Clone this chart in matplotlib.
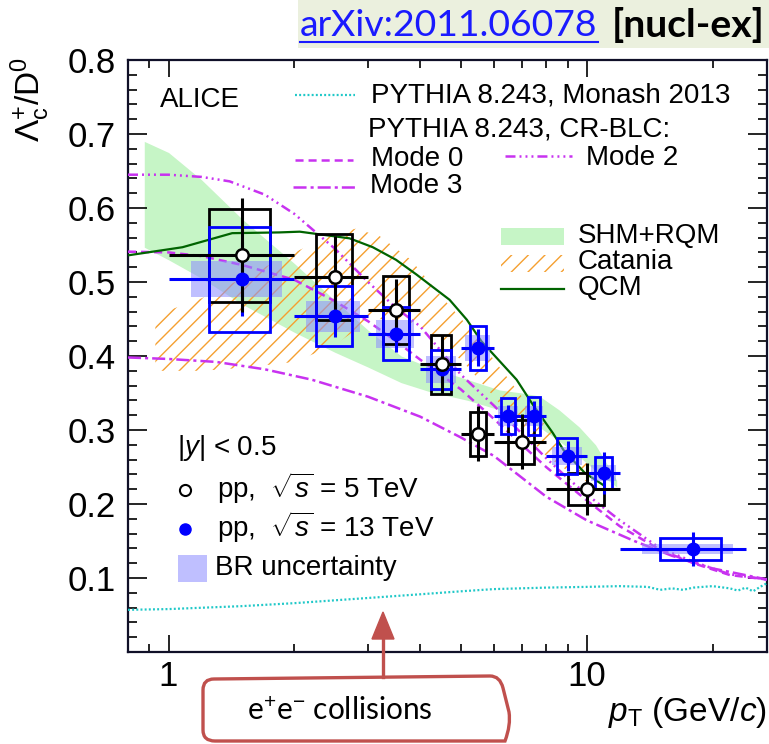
import numpy as np
import matplotlib
matplotlib.use('Agg')
import matplotlib.pyplot as plt
from matplotlib.patches import Rectangle, PathPatch, Polygon
from matplotlib.path import Path
from matplotlib.ticker import FixedLocator, NullFormatter, FixedFormatter

plt.rcParams['font.family'] = ['Liberation Sans', 'DejaVu Sans']
plt.rcParams['mathtext.fontset'] = 'custom'
plt.rcParams['mathtext.rm'] = 'Liberation Sans'
plt.rcParams['mathtext.it'] = 'Liberation Sans:italic'
plt.rcParams['mathtext.bf'] = 'Liberation Sans:bold'
plt.rcParams['hatch.linewidth'] = 1.0
plt.rcParams['lines.scale_dashes'] = False

# ---------------- data ----------------
# pp 13 TeV
pt13 = [1.5, 2.5, 3.5, 4.5, 5.5, 6.5, 7.5, 9.0, 11.0, 18.0]
lo13 = [1, 2, 3, 4, 5, 6, 7, 8, 10, 12]
hi13 = [2, 3, 4, 5, 6, 7, 8, 10, 12, 24]
r13 = [0.504, 0.454, 0.430, 0.382, 0.411, 0.319, 0.319, 0.265, 0.242, 0.139]
stat13 = [0.050, 0.028, 0.025, 0.020, 0.025, 0.015, 0.020, 0.020, 0.028, 0.023]
sys13 = [0.071, 0.040, 0.036, 0.026, 0.030, 0.024, 0.026, 0.024, 0.022, 0.015]
br13 = [0.024, 0.021, 0.019, 0.018, 0.018, 0.014, 0.014, 0.012, 0.011, 0.007]

# pp 5 TeV
pt5 = [1.5, 2.5, 3.5, 4.5, 5.5, 7.0, 10.0]
lo5 = [1, 2, 3, 4, 5, 6, 8]
hi5 = [2, 3, 4, 5, 6, 8, 12]
r5 = [0.536, 0.507, 0.462, 0.389, 0.295, 0.284, 0.220]
stat5 = [0.077, 0.055, 0.042, 0.040, 0.037, 0.037, 0.035]
sys5 = [0.063, 0.058, 0.046, 0.040, 0.030, 0.030, 0.022]

# SHM+RQM band
shm_pt = [0.875, 1.0, 1.2, 1.5, 2.0, 2.5, 3.0, 3.6, 4.2, 5.2, 6.2, 7.0, 7.7, 8.6, 9.6, 10.5, 11.8]
shm_hi = [0.690, 0.675, 0.638, 0.585, 0.525, 0.475, 0.435, 0.400, 0.385, 0.368, 0.354, 0.350, 0.346, 0.327, 0.304, 0.280, 0.232]
shm_lo = [0.547, 0.530, 0.505, 0.470, 0.432, 0.405, 0.385, 0.364, 0.352, 0.340, 0.327, 0.315, 0.304, 0.285, 0.264, 0.245, 0.223]

# Catania band
cat_pt = [0.93, 1.2, 1.5, 2.0, 2.5, 2.8, 3.2, 3.8, 4.5, 5.2, 6.0, 7.0, 8.0, 9.0, 10.0]
cat_hi = [0.455, 0.478, 0.505, 0.540, 0.565, 0.572, 0.562, 0.530, 0.480, 0.440, 0.395, 0.345, 0.305, 0.275, 0.255]
cat_lo = [0.380, 0.380, 0.384, 0.392, 0.415, 0.435, 0.450, 0.445, 0.420, 0.385, 0.345, 0.300, 0.265, 0.245, 0.230]

# QCM
qcm_pt = [0.8, 1.08, 1.42, 1.84, 2.06, 2.71, 3.08, 3.5, 3.92, 4.7, 5.17, 5.6, 6.8, 7.4, 8.3, 8.8, 9.9, 11.0]
qcm_y = [0.536, 0.547, 0.566, 0.567, 0.568, 0.559, 0.547, 0.530, 0.510, 0.476, 0.449, 0.420, 0.368, 0.336, 0.296, 0.273, 0.242, 0.225]

# PYTHIA Monash
mon_pt = [0.8, 1, 1.5, 2, 3, 4, 5, 6, 8, 10, 12, 14, 15, 16, 17, 18, 20, 22, 23, 24, 25, 26, 27]
mon_y = [0.057, 0.058, 0.062, 0.066, 0.073, 0.078, 0.082, 0.085, 0.087, 0.088, 0.089, 0.088, 0.084,
         0.086, 0.084, 0.087, 0.089, 0.086, 0.083, 0.087, 0.082, 0.088, 0.093]

# PYTHIA CR-BLC modes
m0_pt = [0.8, 1.0, 1.2, 1.5, 2.0, 2.5, 3.0, 3.5, 4.0, 5.0, 6.0, 7.0, 8.0, 10, 12, 15, 18, 22, 27]
m0_y = [0.541, 0.540, 0.535, 0.523, 0.503, 0.474, 0.447, 0.420, 0.395, 0.355, 0.315, 0.280, 0.250,
        0.205, 0.170, 0.138, 0.120, 0.104, 0.098]
m2_pt = [0.8, 1.0, 1.2, 1.4, 1.7, 2.0, 2.5, 3.0, 3.5, 4.0, 5.0, 6.0, 7.0, 8.0, 9.0, 10, 12, 15, 18, 22, 27]
m2_y = [0.645, 0.645, 0.642, 0.636, 0.618, 0.592, 0.545, 0.500, 0.465, 0.440, 0.375, 0.333, 0.295,
        0.262, 0.235, 0.213, 0.178, 0.140, 0.122, 0.105, 0.098]
m3_pt = [0.8, 1.0, 1.3, 1.7, 2.2, 3.0, 4.0, 5.0, 6.0, 8.0, 10, 13, 16, 20, 27]
m3_y = [0.398, 0.396, 0.392, 0.382, 0.368, 0.345, 0.318, 0.290, 0.265, 0.210, 0.178, 0.150, 0.130, 0.113, 0.098]

x_ticks = [1, 10]
x_ticklabels = ['1', '10']
y_ticks = [0.1, 0.2, 0.3, 0.4, 0.5, 0.6, 0.7, 0.8]
y_ticklabels = ['0.1', '0.2', '0.3', '0.4', '0.5', '0.6', '0.7', '0.8']

# ---------------- figure ----------------
W, H = 769, 744
fig = plt.figure(figsize=(W / 100, H / 100), dpi=100)


def F(x, y):
    return (x / W, 1 - y / H)


ax = fig.add_axes([128 / W, (H - 652) / H, (767 - 128) / W, (652 - 60) / H])
ax.set_xscale('log')
ax.set_xlim(0.8, 27)
ax.set_ylim(0.0, 0.8)

C13 = '#0000ff'
MAG = '#c832f0'
CYAN = '#20c8c8'
QCMC = '#006400'
ORANGE = '#f5a030'
GREEN = '#c6f5c6'
BRC = (0.55, 0.55, 1.0)

# bands
ax.fill_between(shm_pt, shm_lo, shm_hi, color=GREEN, lw=0, zorder=1)
ax.fill_between(cat_pt, cat_lo, cat_hi, facecolor='none', edgecolor=ORANGE, hatch='//', lw=0, zorder=2)

# curves
ax.plot(mon_pt, mon_y, color=CYAN, lw=1.6, ls=(0, (1.4, 1.6)), zorder=3)
ax.plot(m0_pt, m0_y, color=MAG, lw=1.8, ls=(0, (5.8, 3.6)), zorder=3)
ax.plot(m2_pt, m2_y, color=MAG, lw=1.8, ls=(0, (7.2, 2.9, 1.4, 2.9, 1.4, 2.9, 1.4, 2.9)), zorder=3)
ax.plot(m3_pt, m3_y, color=MAG, lw=1.8, ls=(0, (9.4, 2.9, 2.2, 2.9)), zorder=3)
ax.plot(qcm_pt, qcm_y, color=QCMC, lw=1.6, zorder=3)

# BR boxes (13 TeV)
for x, l, h, y, b in zip(pt13, lo13, hi13, r13, br13):
    hw = 0.37 * (h - l)
    ax.add_patch(Rectangle((x - hw, y - b), 2 * hw, 2 * b, facecolor=BRC, alpha=0.55, lw=0, zorder=4))

# systematic boxes
for x, l, h, y, s in zip(pt5, lo5, hi5, r5, sys5):
    hw = 0.25 * (h - l)
    ax.add_patch(Rectangle((x - hw, y - s), 2 * hw, 2 * s, facecolor='none', edgecolor='black', lw=2.0, zorder=5))
for x, l, h, y, s in zip(pt13, lo13, hi13, r13, sys13):
    hw = 0.25 * (h - l)
    ax.add_patch(Rectangle((x - hw, y - s), 2 * hw, 2 * s, facecolor='none', edgecolor=C13, lw=2.0, zorder=5))

# stat error bars
xe13 = [np.subtract(pt13, lo13), np.subtract(hi13, pt13)]
xe5 = [np.subtract(pt5, lo5), np.subtract(hi5, pt5)]
ax.errorbar(pt13, r13, xerr=xe13, yerr=stat13, fmt='none', ecolor=C13, elinewidth=2.2, capsize=0, zorder=6)
ax.errorbar(pt5, r5, xerr=xe5, yerr=stat5, fmt='none', ecolor='black', elinewidth=2.2, capsize=0, zorder=7)
ax.plot(pt13, r13, 'o', color=C13, ms=9, mec=C13, zorder=8)
ax.plot(pt5, r5, 'o', mfc='white', mec='black', mew=1.8, ms=9, zorder=9)

# axes styling
ax.xaxis.set_major_locator(FixedLocator(x_ticks))
ax.xaxis.set_major_formatter(FixedFormatter(x_ticklabels))
ax.xaxis.set_minor_locator(FixedLocator([0.8, 0.9, 2, 3, 4, 5, 6, 7, 8, 9, 20]))
ax.xaxis.set_minor_formatter(NullFormatter())
ax.yaxis.set_major_locator(FixedLocator(y_ticks))
ax.yaxis.set_major_formatter(FixedFormatter(y_ticklabels))
ax.yaxis.set_minor_locator(FixedLocator(np.arange(0.02, 0.8, 0.02)))
ax.tick_params(axis='both', which='both', direction='in', top=True, right=True, width=1.2, color='black')
ax.tick_params(axis='y', which='major', length=14, labelsize=25, pad=9)
ax.tick_params(axis='y', which='minor', length=6.5)
ax.tick_params(axis='x', which='major', length=12, labelsize=25, pad=6)
ax.tick_params(axis='x', which='minor', length=6)
for sp in ax.spines.values():
    sp.set_linewidth(1.6)
    sp.set_color('#101028')

# axis titles
fig.text(*F(30, 57), r'$\Lambda_{\rm c}^{+}/{\rm D}^{0}$', rotation=90, ha='center', va='top', fontsize=24)
fig.text(*F(767, 712), r'$p_{\rm T}$ (GeV/$c$)', ha='right', va='center', fontsize=24)

# ---------------- legends ----------------
fs = 20
fig.text(*F(160, 100), 'ALICE', ha='left', va='center', fontsize=fs)


def legline(x0, x1, y, **kw):
    ax.plot([x0 / W, x1 / W], [1 - y / H, 1 - y / H], transform=fig.transFigure, clip_on=False, **kw)


legline(295, 355, 95, color=CYAN, lw=1.6, ls=(0, (1.4, 1.6)))
fig.text(*F(371, 96), 'PYTHIA 8.243, Monash 2013', va='center', ha='left', fontsize=fs)
fig.text(*F(368, 130), 'PYTHIA 8.243, CR-BLC:', va='center', ha='left', fontsize=fs)
legline(295, 353, 160, color=MAG, lw=1.8, ls=(0, (5.8, 3.6)))
fig.text(*F(371, 159), 'Mode 0', va='center', ha='left', fontsize=fs)
legline(505, 572, 156, color=MAG, lw=1.8, ls=(0, (7.2, 2.9, 1.4, 2.9, 1.4, 2.9, 1.4, 2.9)))
fig.text(*F(586, 158), 'Mode 2', va='center', ha='left', fontsize=fs)
legline(293, 355, 187, color=MAG, lw=1.8, ls=(0, (9.4, 2.9, 2.2, 2.9)))
fig.text(*F(370, 186), 'Mode 3', va='center', ha='left', fontsize=fs)

fig.patches.append(Rectangle(F(501, 245), 63 / W, 17 / H, transform=fig.transFigure, facecolor=GREEN, lw=0))
fig.text(*F(578, 236), 'SHM+RQM', va='center', ha='left', fontsize=fs)
fig.patches.append(Rectangle(F(501, 272), 63 / W, 17 / H, transform=fig.transFigure, facecolor='none',
                             edgecolor=ORANGE, hatch='//', lw=0))
fig.text(*F(578, 262), 'Catania', va='center', ha='left', fontsize=fs)
legline(501, 564, 289, color=QCMC, lw=1.6)
fig.text(*F(578, 288), 'QCM', va='center', ha='left', fontsize=fs)

fig.text(*F(177, 448), r'|$y$| < 0.5', va='center', ha='left', fontsize=fs)
ax.plot([185 / W], [1 - 490 / H], 'o', mfc='white', mec='black', mew=1.5, ms=8, transform=fig.transFigure, clip_on=False)
fig.text(*F(217, 488), r'pp,  $\sqrt{s}$ = 5 TeV', va='center', ha='left', fontsize=fs)
ax.plot([185 / W], [1 - 529 / H], 'o', color=C13, ms=8, transform=fig.transFigure, clip_on=False)
fig.text(*F(217, 527), r'pp,  $\sqrt{s}$ = 13 TeV', va='center', ha='left', fontsize=fs)
fig.patches.append(Rectangle(F(178, 582), 29 / W, 27 / H, transform=fig.transFigure, facecolor=BRC, alpha=0.55, lw=0))
fig.text(*F(215, 568), 'BR uncertainty', va='center', ha='left', fontsize=fs)

# ---------------- banner ----------------
fig.patches.append(Rectangle(F(298, 48), (W - 298) / W, 48 / H, transform=fig.transFigure, facecolor='#ebf0de', lw=0))
t1 = fig.text(*F(300, 25), 'arXiv:2011.06078', va='center', ha='left', fontsize=26, color='#1a1aff', family='Lato')
t2 = fig.text(*F(765, 25), '[nucl-ex]', va='center', ha='right', fontsize=26, color='black', family='Lato', weight='bold')

# ---------------- callout ----------------
RED = '#c0504d'
verts = [F(203, 690), F(203, 679), F(214, 679), F(490, 676), F(500, 676), F(503, 688), F(509, 712),
         F(511, 725), F(505, 741), F(215, 741), F(203, 741), F(203, 730), F(203, 690)]
codes = [Path.MOVETO, Path.CURVE3, Path.CURVE3, Path.LINETO, Path.CURVE3, Path.CURVE3, Path.LINETO,
         Path.CURVE3, Path.CURVE3, Path.LINETO, Path.CURVE3, Path.CURVE3, Path.CLOSEPOLY]
fig.patches.append(PathPatch(Path(verts, codes), transform=fig.transFigure, facecolor='white', edgecolor=RED, lw=2.4))
fig.lines.append(plt.Line2D([383 / W, 383 / W], [1 - 677 / H, 1 - 636 / H], transform=fig.transFigure, color=RED, lw=2.4))
fig.patches.append(Polygon([F(372, 639), F(394, 639), F(383, 612)], closed=True, transform=fig.transFigure,
                           facecolor=RED, edgecolor=RED, lw=1))
t3 = fig.text(*F(340, 711), r'e$^{+}$e$^{-}$ collisions', va='center', ha='center', fontsize=22, family='Lato')

# fit text widths of banner and callout to the reference layout
renderer = fig.canvas.get_renderer()
for t, target in [(t1, 298), (t2, 153), (t3, 185)]:
    w = t.get_window_extent(renderer).width
    t.set_fontsize(t.get_fontsize() * target / w)

# underline for link (matches text extent)
bb = t1.get_window_extent(renderer)
fig.lines.append(plt.Line2D([bb.x0 / W, bb.x1 / W], [1 - 42 / H, 1 - 42 / H], transform=fig.transFigure,
                            color='#1a1aff', lw=1.5))

fig.savefig('out.png', dpi=100)
